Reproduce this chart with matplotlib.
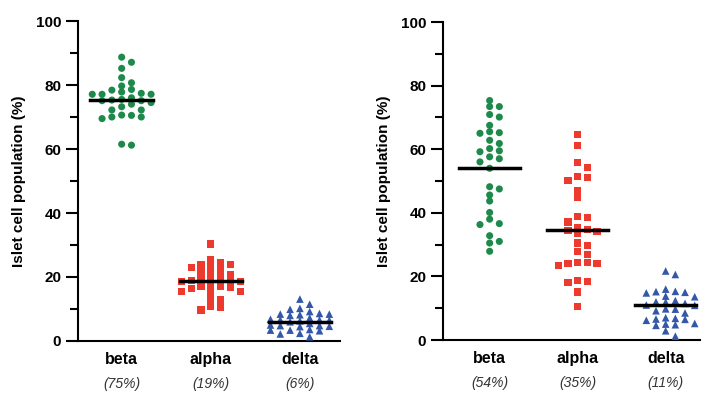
import numpy as np
import matplotlib
matplotlib.use("Agg")
import matplotlib.pyplot as plt
from matplotlib.ticker import MultipleLocator

plt.rcParams['font.family'] = ['Liberation Sans', 'DejaVu Sans']

categories = ["beta", "alpha", "delta"]
left_pct = ["(75%)", "(19%)", "(6%)"]
right_pct = ["(54%)", "(35%)", "(11%)"]

beta_left = [88.7, 87.1, 85.2, 82.3, 80.7, 79.7, 78.4, 78.6, 77.4, 77.1, 77.1, 77.1, 77.8,
             75.5, 75.1, 75.3, 75.1, 74.5, 73.2, 72.2, 72.2, 70.5, 70.0, 69.5, 70.0, 70.6,
             61.2, 61.5, 76.0, 74.0]
alpha_left = [30.3, 25.5, 24.6, 24.0, 24.0, 23.5, 22.9, 22.4, 22.0, 21.5, 20.7, 20.3, 20.0,
              19.2, 19.0, 18.8, 18.6, 18.5, 17.0, 17.2, 16.8, 17.0, 16.5, 15.6, 15.6, 15.3,
              13.1, 12.8, 10.7, 10.5, 9.7]
delta_left = [13.1, 11.5, 10.2, 9.9, 9.2, 8.6, 8.4, 8.2, 8.4, 8.0, 7.2, 6.8, 6.6, 6.5, 6.3,
              6.6, 6.0, 5.5, 5.0, 4.8, 4.6, 4.8, 4.5, 3.6, 3.4, 3.2, 3.4, 2.4, 2.2, 1.3]

beta_right = [75.3, 73.4, 73.4, 70.9, 70.1, 67.5, 65.2, 65.5, 65.0, 62.8, 61.8, 60.2, 59.2,
              59.5, 57.6, 57.0, 56.0, 54.0, 48.2, 47.5, 45.6, 43.7, 40.1, 38.0, 36.6, 36.3,
              32.8, 31.0, 30.5, 27.9]
alpha_right = [64.7, 61.3, 55.9, 54.2, 51.4, 50.3, 51.0, 46.9, 44.9, 38.8, 37.1, 38.5, 35.5,
               34.5, 34.0, 33.5, 34.8, 29.7, 30.5, 26.9, 27.9, 24.5, 24.2, 23.5, 24.0, 24.3,
               18.1, 18.7, 18.4, 15.1, 10.4]
delta_right = [21.7, 20.6, 16.0, 15.3, 15.0, 15.2, 14.8, 13.8, 13.6, 12.4, 11.9, 12.0, 11.5,
               11.0, 10.9, 9.7, 9.8, 9.2, 7.0, 6.5, 6.6, 6.2, 6.8, 5.2, 5.0, 4.8, 4.6, 2.9,
               1.2, 8.5]

left_lines = [75.3, 18.8, 6.0]
right_lines = [54.0, 34.5, 10.9]

colors = ["#1d8a4c", "#ee3a2e", "#3358a8"]
markers = ["o", "s", "^"]


def swarm_offsets(values, step_units, px_per_x, px_per_y, diam, kmax=3):
    vals = np.asarray(values, dtype=float)
    order = np.argsort(-vals)
    placed = []
    offs = np.zeros(len(vals))
    cand = [0]
    for k in range(1, kmax + 1):
        cand += [k, -k]
    for i in order:
        v = vals[i]
        best_c, best_d = 0, -1.0
        chosen = None
        for c in cand:
            dmin = 1e9
            for (pc, pv) in placed:
                dx = (c - pc) * step_units * px_per_x
                dy = (v - pv) * px_per_y
                dmin = min(dmin, (dx * dx + dy * dy) ** 0.5)
            if dmin >= diam:
                chosen = c
                break
            if dmin > best_d:
                best_d, best_c = dmin, c
        if chosen is None:
            chosen = best_c
        placed.append((chosen, v))
        offs[i] = chosen * step_units
    return offs


fig = plt.figure(figsize=(7.02, 3.93), dpi=100)
ax1 = fig.add_axes([78 / 702, 52 / 393, 262 / 702, 320 / 393])
ax2 = fig.add_axes([443 / 702, 53 / 393, 257 / 702, 318 / 393])

panels = [
    (ax1, [beta_left, alpha_left, delta_left], left_lines, left_pct, (-0.49, 2.45)),
    (ax2, [beta_right, alpha_right, delta_right], right_lines, right_pct, (-0.53, 2.39)),
]

for ax, series, lines, pcts, xl in panels:
    ax.set_xlim(*xl)
    ax.set_ylim(0, 100)
    bbox = ax.get_position()
    w_px = bbox.width * 702
    h_px = bbox.height * 393
    px_per_x = w_px / (xl[1] - xl[0])
    px_per_y = h_px / 100.0
    for i, vals in enumerate(series):
        offs = swarm_offsets(vals, 0.11, px_per_x, px_per_y, 6.0, kmax=3)
        ax.scatter(i + offs, vals, s=26 if markers[i] != "^" else 30,
                   marker=markers[i], color=colors[i], edgecolors='none', zorder=3,
                   clip_on=False)
        ax.plot([i - 0.35, i + 0.35], [lines[i], lines[i]], color='black', lw=2.5, zorder=4)
    ax.spines['top'].set_visible(False)
    ax.spines['right'].set_visible(False)
    ax.spines['left'].set_linewidth(1.5)
    ax.spines['bottom'].set_linewidth(1.5)
    ax.yaxis.set_major_locator(MultipleLocator(20))
    ax.yaxis.set_minor_locator(MultipleLocator(10))
    ax.tick_params(axis='y', which='major', length=9, width=1.5, pad=3, labelsize=11)
    ax.tick_params(axis='y', which='minor', length=6, width=1.5)
    for lab in ax.get_yticklabels():
        lab.set_fontweight('bold')
    ax.set_xticks([0, 1, 2])
    ax.set_xticklabels(categories, fontsize=11.5, fontweight='bold')
    ax.tick_params(axis='x', length=0, pad=8)
    for i, p in enumerate(pcts):
        ax.text(i, -0.135, p, transform=ax.get_xaxis_transform(), ha='center', va='center',
                fontsize=10, style='italic', color='#333333')
    ax.set_ylabel("Islet cell population (%)", fontsize=11, fontweight='bold', labelpad=7)

fig.savefig("out.png", dpi=100)
